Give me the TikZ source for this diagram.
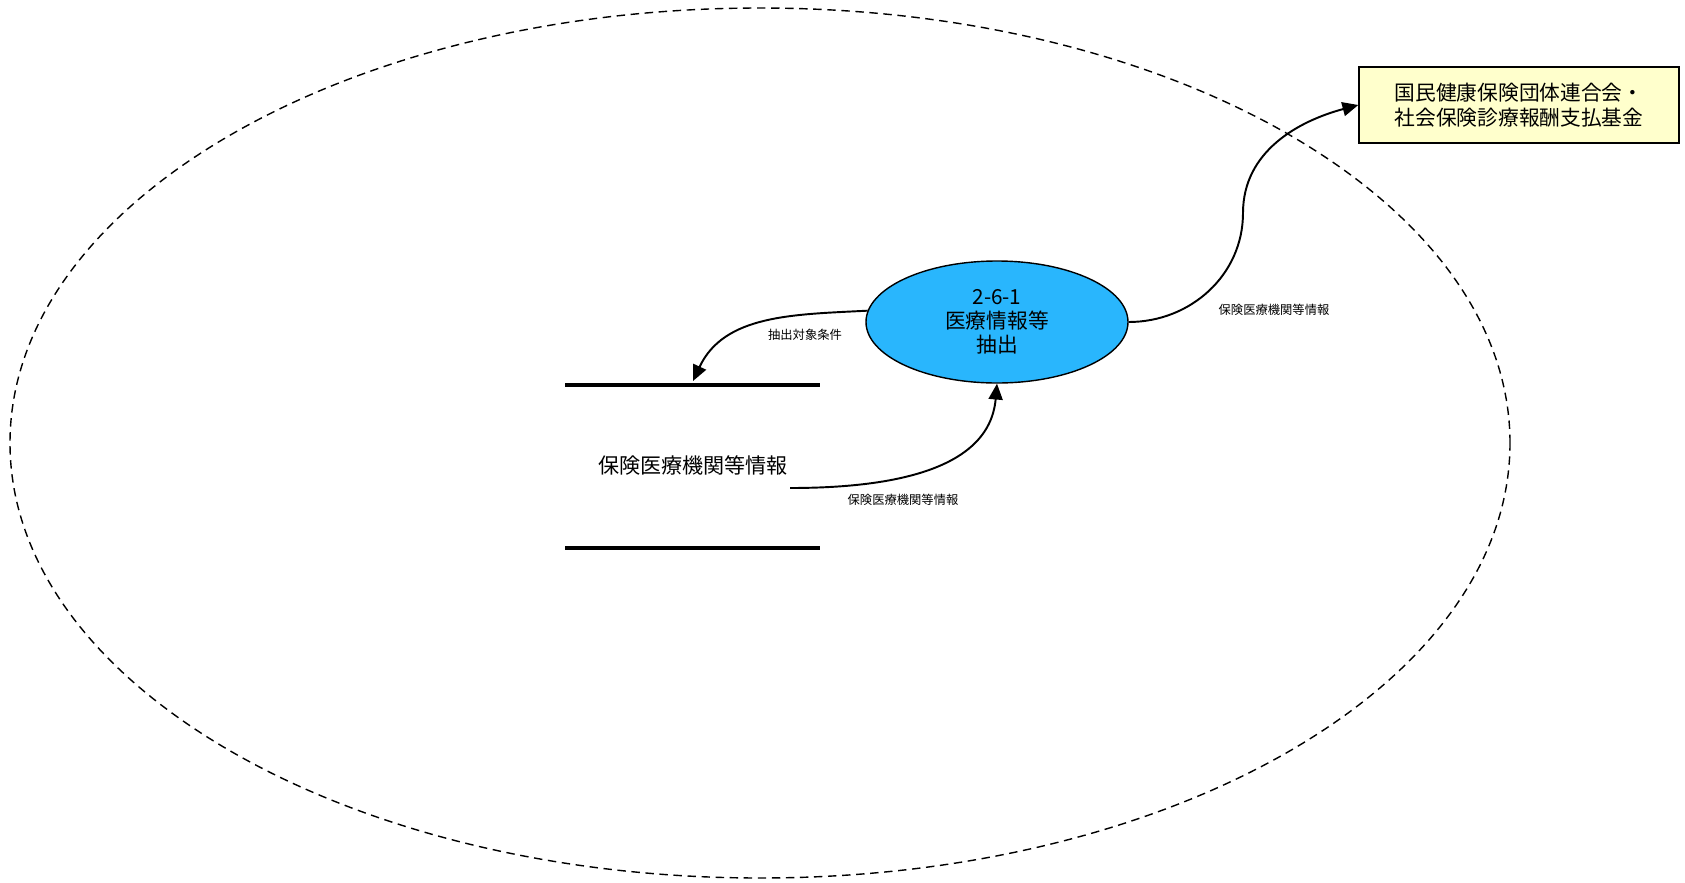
\documentclass[tikz,border=0pt]{standalone}
\usepackage{fontspec}
\setmainfont{Noto Sans CJK JP}
\usetikzlibrary{arrows.meta,shapes.geometric}
\definecolor{procblue}{RGB}{41,182,253}
\definecolor{extyellow}{RGB}{255,255,204}
\begin{document}
\begin{tikzpicture}[flow/.style={line width=1.1pt,-{Triangle[length=9pt,width=8pt]}},lbl/.style={font=\fontsize{7}{8}\selectfont}]
\useasboundingbox (0,0) rectangle (33.7,-17.66);
\draw[line width=0.8pt,dash pattern=on 4.8pt off 3.2pt] (15.2,-8.86) ellipse (15.0 and 8.7);
\node[ellipse,draw,line width=0.8pt,fill=procblue,minimum width=5.24cm,minimum height=2.44cm,inner sep=0pt,align=center,font=\fontsize{11.8}{13.6}\selectfont] (proc) at (19.94,-6.44) {2-6-1\\医療情報等\\抽出};
\node[draw,line width=0.8pt,fill=extyellow,minimum width=6.4cm,minimum height=1.52cm,align=center,font=\fontsize{11.8}{14}\selectfont] (ext) at (30.38,-2.1) {国民健康保険団体連合会・\\社会保険診療報酬支払基金};
\draw[line width=2.2pt] (11.3,-7.7) -- (16.4,-7.7);
\draw[line width=2.2pt] (11.3,-10.96) -- (16.4,-10.96);
\node[font=\fontsize{12}{14}\selectfont] (store) at (13.86,-9.3) {保険医療機関等情報};
\coordinate (storetop) at (13.86,-7.62);
\coordinate (storeout) at (15.8,-9.76);
\coordinate (bend) at (24.86,-4.26);
\draw[flow] (proc.175) to[out=183,in=65] (storetop);
\draw[flow] (storeout) to[out=0,in=-95] (proc.south);
\draw[flow] (proc.east) to[out=0,in=-90] (bend) to[out=90,in=195] (ext.west);
\node[lbl] at (16.1,-6.7) {抽出対象条件};
\node[lbl] at (18.06,-10.0) {保険医療機関等情報};
\node[lbl] at (25.48,-6.2) {保険医療機関等情報};
\end{tikzpicture}
\end{document}
